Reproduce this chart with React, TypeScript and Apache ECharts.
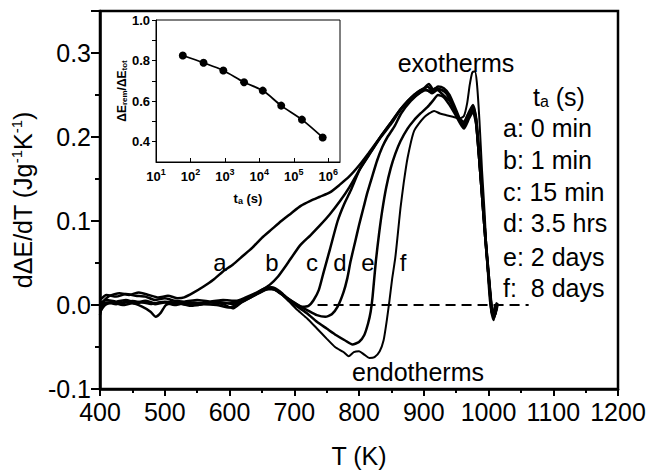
import React, { useEffect, useRef } from 'react';
import * as echarts from 'echarts';

const FONT = "'Liberation Sans', Arial, Helvetica, sans-serif";

// Main panel: dΔE/dT vs T for six aging times
const curveA: [number, number][] = [
  [400, -0.012], [405, 0.004], [415, 0.011], [430, 0.014], [445, 0.012], [460, 0.015], [475, 0.012], [490, 0.009],
  [505, 0.011], [520, 0.008], [530, 0.009], [545, 0.015], [560, 0.022], [575, 0.03], [590, 0.04], [605, 0.048],
  [620, 0.058], [635, 0.068], [650, 0.08], [665, 0.09], [680, 0.1], [695, 0.109], [710, 0.118], [725, 0.124],
  [740, 0.129], [755, 0.134], [770, 0.143], [785, 0.153], [800, 0.166], [815, 0.181], [833, 0.2], [850, 0.218],
  [865, 0.234], [885, 0.25], [900, 0.258], [908, 0.263], [915, 0.256], [922, 0.26], [931, 0.258], [940, 0.25],
  [950, 0.232], [962, 0.212], [970, 0.228], [976, 0.236], [980, 0.225], [985, 0.18], [990, 0.13], [995, 0.08],
  [1000, 0.035], [1005, -0.01], [1008, -0.018], [1012, 0.002], [1015, 0],
];
const curveB: [number, number][] = [
  [400, 0.002], [410, 0.006], [425, 0.004], [440, 0.006], [455, 0.003], [470, 0.005], [485, 0.002], [500, 0.004],
  [515, 0.003], [530, 0.001], [545, 0.003], [560, 0.002], [575, 0.004], [590, 0.003], [605, 0.001], [620, 0.006],
  [635, 0.011], [650, 0.018], [662, 0.024], [675, 0.034], [690, 0.05], [709, 0.071], [725, 0.083], [740, 0.095],
  [755, 0.108], [771, 0.124], [785, 0.14], [800, 0.16], [815, 0.178], [833, 0.199], [850, 0.216], [865, 0.233],
  [885, 0.248], [898, 0.255], [906, 0.26], [914, 0.254], [922, 0.257], [931, 0.255], [940, 0.246], [950, 0.228],
  [960, 0.215], [968, 0.226], [975, 0.234], [980, 0.222], [985, 0.18], [990, 0.13], [995, 0.08], [1000, 0.035],
  [1005, -0.005], [1009, -0.015], [1013, 0],
];
const curveC: [number, number][] = [
  [400, -0.008], [408, 0.0], [420, 0.003], [435, 0.0], [450, 0.002], [465, -0.002], [478, -0.008], [486, -0.014],
  [494, -0.009], [502, 0.0], [520, 0.002], [540, -0.001], [560, 0.001], [580, 0.0], [600, -0.003], [615, 0.002],
  [630, 0.008], [645, 0.014], [658, 0.019], [670, 0.018], [685, 0.01], [700, 0.003], [712, -0.002], [722, -0.001],
  [730, 0.006], [738, 0.018], [745, 0.038], [755, 0.066], [767, 0.1], [777, 0.12], [787, 0.136], [802, 0.163],
  [818, 0.182], [833, 0.2], [850, 0.218], [865, 0.234], [885, 0.25], [900, 0.257], [910, 0.254], [918, 0.258],
  [927, 0.256], [935, 0.252], [945, 0.238], [955, 0.222], [962, 0.218], [970, 0.23], [976, 0.238], [981, 0.222],
  [986, 0.175], [991, 0.125], [996, 0.075], [1001, 0.03], [1006, -0.008], [1010, -0.012], [1014, 0],
];
const curveD: [number, number][] = [
  [400, 0.0], [410, 0.003], [425, 0.001], [440, 0.004], [455, 0.002], [470, 0.004], [485, 0.001], [500, 0.003],
  [515, 0.0], [530, 0.002], [550, 0.0], [570, 0.003], [590, 0.001], [605, -0.004], [620, 0.004], [635, 0.01],
  [650, 0.016], [663, 0.02], [675, 0.017], [690, 0.008], [705, 0.0], [720, -0.006], [735, -0.012], [748, -0.014],
  [758, -0.011], [767, -0.002], [776, 0.015], [782, 0.032], [787, 0.052], [794, 0.075], [800, 0.095], [807, 0.116],
  [813, 0.134], [820, 0.152], [828, 0.172], [836, 0.188], [844, 0.2], [855, 0.213], [865, 0.228], [880, 0.243],
  [895, 0.253], [905, 0.256], [913, 0.252], [921, 0.256], [930, 0.25], [940, 0.243], [950, 0.228], [962, 0.214],
  [970, 0.226], [976, 0.233], [981, 0.22], [986, 0.175], [991, 0.125], [996, 0.075], [1001, 0.03], [1005, -0.005],
  [1009, -0.013], [1013, 0],
];
const curveE: [number, number][] = [
  [400, 0.006], [410, 0.012], [425, 0.01], [440, 0.013], [455, 0.011], [470, 0.01], [485, 0.006], [500, 0.008],
  [515, 0.005], [530, 0.004], [550, 0.006], [570, 0.004], [590, 0.006], [610, 0.005], [625, 0.009], [640, 0.014],
  [655, 0.02], [665, 0.021], [678, 0.016], [692, 0.006], [705, -0.002], [720, -0.01], [735, -0.02], [750, -0.028],
  [765, -0.036], [778, -0.042], [790, -0.047], [800, -0.044], [808, -0.036], [814, -0.022], [818, -0.008],
  [821, 0.01], [826, 0.052], [831, 0.085], [836, 0.113], [842, 0.14], [849, 0.163], [856, 0.18], [864, 0.195],
  [875, 0.21], [885, 0.22], [895, 0.228], [906, 0.236], [914, 0.243], [922, 0.25], [930, 0.248], [940, 0.238],
  [950, 0.225], [962, 0.21], [970, 0.222], [976, 0.23], [981, 0.215], [986, 0.17], [991, 0.12], [996, 0.07],
  [1001, 0.025], [1005, -0.008], [1009, -0.014], [1013, 0],
];
const curveF: [number, number][] = [
  [400, -0.01], [406, 0.001], [420, 0.004], [435, 0.002], [450, 0.005], [465, 0.003], [480, 0.001], [495, 0.004],
  [510, 0.002], [530, 0.003], [550, 0.001], [570, 0.004], [590, 0.002], [610, 0.003], [625, 0.008], [640, 0.013],
  [655, 0.018], [665, 0.019], [678, 0.014], [692, 0.004], [705, -0.006], [720, -0.016], [735, -0.028], [750, -0.04],
  [763, -0.05], [776, -0.056], [784, -0.061], [792, -0.056], [800, -0.055], [808, -0.059], [816, -0.063],
  [824, -0.062], [832, -0.055], [838, -0.042], [843, -0.018], [847, 0.005], [851, 0.03], [856, 0.056], [860, 0.085],
  [864, 0.115], [869, 0.145], [875, 0.175], [885, 0.207], [900, 0.223], [916, 0.231], [925, 0.228], [935, 0.226],
  [945, 0.224], [955, 0.222], [962, 0.225], [967, 0.24], [971, 0.262], [975, 0.277], [979, 0.278], [982, 0.265],
  [986, 0.22], [990, 0.16], [994, 0.11], [998, 0.05], [1002, 0.005], [1006, -0.012], [1010, 0.0],
];
const zeroLineT = [736, 1062];

const curveNames = ['a', 'b', 'c', 'd', 'e', 'f'];
const legendLines = ['a: 0 min', 'b: 1 min', 'c: 15 min', 'd: 3.5 hrs', 'e: 2 days', 'f:  8 days'];

// Inset: ΔE_rem/ΔE_tot vs aging time t_a (s)
const insetTime = [60, 240, 900, 3600, 12600, 43200, 172800, 691200];
const insetRatio = [0.825, 0.789, 0.751, 0.693, 0.652, 0.578, 0.509, 0.421];
const insetYLabels = [0.4, 0.6, 0.8, 1.0];
const insetYTicks = [0.4, 0.5, 0.6, 0.7, 0.8, 0.9, 1.0];

export default function App() {
  const ref = useRef<HTMLDivElement>(null);
  useEffect(() => {
    if (!ref.current) return;
    const chart = echarts.init(ref.current, undefined, { renderer: 'svg' });
    const curves = [curveA, curveB, curveC, curveD, curveE, curveF];
    const letterX = [220, 272, 312, 340, 368, 403];
    const legendY = [128, 160, 192, 223, 257, 288];
    const txt = (text: string, x: number, y: number, size: number, align = 'center', extra: any = {}) => ({
      type: 'text',
      x,
      y,
      z: 100,
      style: {
        text,
        fill: '#000',
        fontSize: size,
        fontFamily: FONT,
        align,
        verticalAlign: 'middle',
        textAlign: align,
        textVerticalAlign: 'middle',
        ...extra,
      },
    });
    const option: any = {
      animation: false,
      backgroundColor: '#fff',
      textStyle: { fontFamily: FONT, color: '#000' },
      grid: [
        { left: 100, top: 11, right: 39, bottom: 87, show: true, borderColor: '#000', borderWidth: 2.5, outerBoundsMode: 'none' },
        { left: 156, top: 20, right: 317, bottom: 314, show: true, borderColor: '#000', borderWidth: 1, backgroundColor: '#fff', outerBoundsMode: 'none' },
      ],
      xAxis: [
        {
          type: 'value', gridIndex: 0, min: 400, max: 1200, interval: 100,
          axisLine: { onZero: false, lineStyle: { color: '#000', width: 2.5 } },
          axisTick: { length: 7, lineStyle: { color: '#000', width: 2 } },
          minorTick: { show: true, splitNumber: 2, length: 4, lineStyle: { color: '#000', width: 2 } },
          splitLine: { show: false },
          axisLabel: { fontSize: 25, color: '#000', margin: 10, fontFamily: FONT, formatter: (v: number) => String(v) },
          name: 'T (K)', nameLocation: 'middle', nameGap: 54,
          nameTextStyle: { fontSize: 25, color: '#000', fontFamily: FONT },
        },
        {
          type: 'log', logBase: 10, gridIndex: 1, min: 10, max: 2.2e6, splitNumber: 5,
          axisLine: { onZero: false, lineStyle: { color: '#000', width: 1 } },
          axisTick: { inside: true, length: 4, lineStyle: { color: '#000', width: 1 } },
          splitLine: { show: false },
          axisLabel: {
            margin: 5, color: '#000', showMaxLabel: false,
            formatter: (v: number) => `{b|10}{s|${Math.round(Math.log10(v))}}`,
            rich: {
              b: { fontSize: 13, fontWeight: 'bold', fontFamily: FONT, lineHeight: 18 },
              s: { fontSize: 9, fontWeight: 'bold', fontFamily: FONT, verticalAlign: 'top', lineHeight: 12 },
            },
          },
          name: 't{sub|a} (s)', nameLocation: 'middle', nameGap: 30,
          nameTextStyle: {
            fontSize: 13, fontWeight: 'bold', color: '#000', fontFamily: FONT,
            rich: { sub: { fontSize: 9, fontWeight: 'bold', fontFamily: FONT, verticalAlign: 'bottom', lineHeight: 10 } },
          },
        },
      ],
      yAxis: [
        {
          type: 'value', gridIndex: 0, min: -0.1, max: 0.35, interval: 0.1,
          axisLine: { onZero: false, lineStyle: { color: '#000', width: 2.5 } },
          axisTick: { length: 9, lineStyle: { color: '#000', width: 2 } },
          minorTick: { show: true, splitNumber: 2, length: 5, lineStyle: { color: '#000', width: 2 } },
          splitLine: { show: false },
          axisLabel: {
            fontSize: 25, color: '#000', margin: 9, fontFamily: FONT, showMaxLabel: false,
            formatter: (v: number) => v.toFixed(1),
          },
          name: 'dΔE/dT (Jg{s|-1}K{s|-1})', nameLocation: 'middle', nameGap: 52, nameRotate: 90,
          nameTextStyle: {
            fontSize: 25, color: '#000', fontFamily: FONT, lineHeight: 28,
            rich: { s: { fontSize: 15, fontFamily: FONT, verticalAlign: 'top', lineHeight: 15 } },
          },
        },
        {
          type: 'value', gridIndex: 1, min: 0.3, max: 1.0,
          axisLine: { onZero: false, lineStyle: { color: '#000', width: 1 } },
          axisTick: { length: 4, customValues: insetYTicks, lineStyle: { color: '#000', width: 1 } },
          splitLine: { show: false },
          axisLabel: {
            fontSize: 13, fontWeight: 'bold', color: '#000', margin: 6, fontFamily: FONT,
            customValues: insetYLabels, formatter: (v: number) => v.toFixed(1),
          },
          name: 'ΔE{sub|rem}/ΔE{sub|tot}', nameLocation: 'middle', nameGap: 23, nameRotate: 90,
          nameTextStyle: {
            fontSize: 12, fontWeight: 'bold', color: '#000', fontFamily: FONT,
            rich: { sub: { fontSize: 8, fontWeight: 'bold', fontFamily: FONT, verticalAlign: 'bottom', lineHeight: 9 } },
          },
        },
      ],
      series: [
        ...curves.map((c, i) => ({
          name: curveNames[i], type: 'line', xAxisIndex: 0, yAxisIndex: 0, data: c,
          showSymbol: false, symbol: 'none', smooth: 0.2,
          lineStyle: { color: '#000', width: i === 5 ? 2 : 2.5 },
        })),
        {
          name: 'zero', type: 'line', xAxisIndex: 0, yAxisIndex: 0,
          data: zeroLineT.map((t) => [t, 0]), showSymbol: false, symbol: 'none',
          lineStyle: { color: '#000', width: 2, type: [10, 6] },
        },
        {
          name: 'inset', type: 'line', xAxisIndex: 1, yAxisIndex: 1,
          data: insetTime.map((t, i) => [t, insetRatio[i]]),
          symbol: 'circle', symbolSize: 8, smooth: 0.3,
          itemStyle: { color: '#000' }, lineStyle: { color: '#000', width: 1.8 },
        },
      ],
      graphic: [
        txt('exotherms', 456, 63, 25),
        txt('endotherms', 418, 372, 25),
        ...curveNames.map((n, i) => txt(n, letterX[i], 262, 24)),
        txt('t{sub|a} (s)', 533, 97, 25, 'left', {
          rich: { sub: { fontSize: 16, fontFamily: FONT, verticalAlign: 'bottom', lineHeight: 14 } },
        }),
        ...legendLines.map((l, i) => txt(l, 503, legendY[i], 25, 'left')),
      ],
    };
    chart.setOption(option);
    return () => chart.dispose();
  }, []);
  return <div ref={ref} style={{ position: 'fixed', left: 0, top: 0, width: 657, height: 476, background: '#fff' }} />;
}
